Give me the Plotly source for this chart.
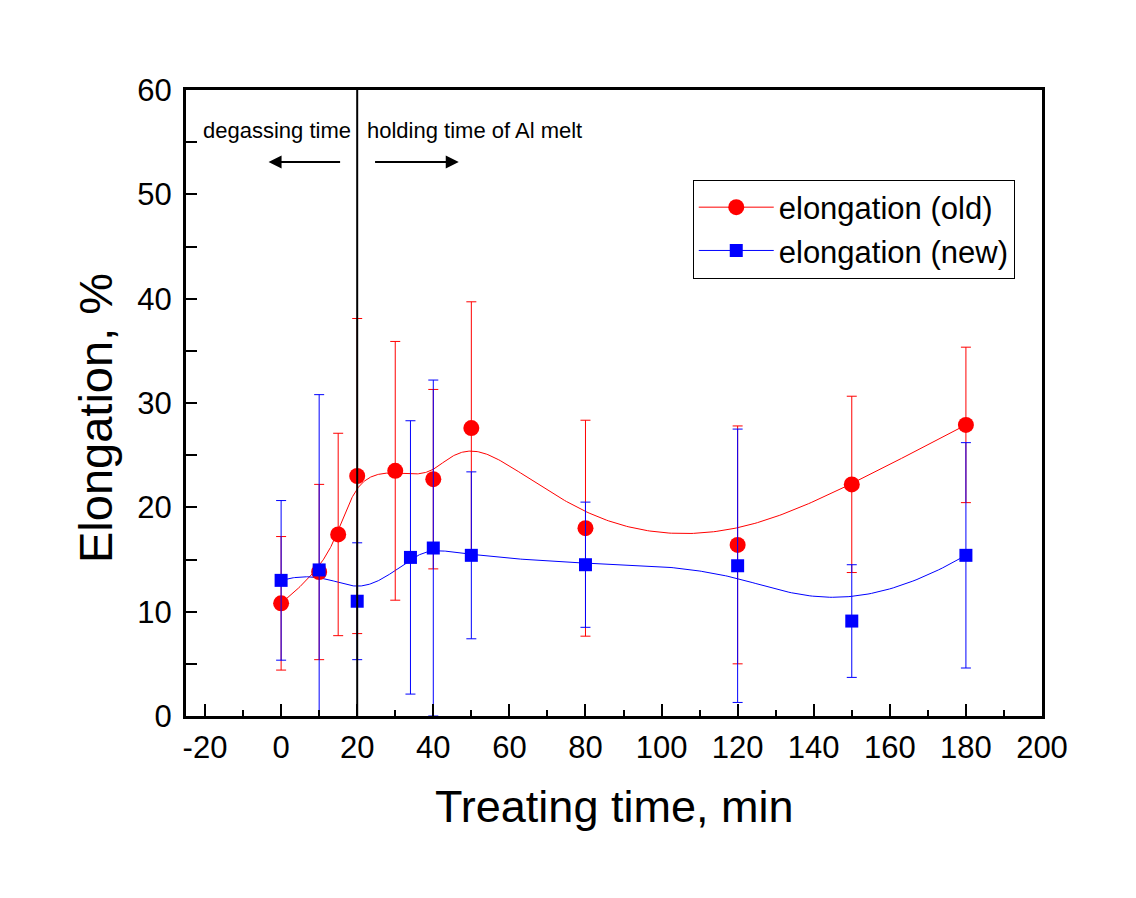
import numpy as np
import plotly.graph_objects as go

# ---- data ----
time_old = [0, 10, 15, 20, 30, 40, 50, 80, 120, 150, 180]
elong_old = [10.8, 13.8, 17.4, 23.0, 23.5, 22.7, 27.6, 18.0, 16.4, 22.2, 27.9]
err_old = [6.4, 8.4, 9.7, 15.1, 12.4, 8.6, 12.1, 10.35, 11.4, 8.45, 7.45]

time_new = [0, 10, 20, 34, 40, 50, 80, 120, 150, 180]
elong_new = [13.0, 14.0, 11.0, 15.2, 16.1, 15.4, 14.5, 14.4, 9.1, 15.4]
err_new = [7.65, 16.8, 5.6, 13.1, 16.1, 8.0, 6.0, 13.1, 5.4, 10.8]

x_tick_vals = [-20, 0, 20, 40, 60, 80, 100, 120, 140, 160, 180, 200]
x_tick_labels = ["-20", "0", "20", "40", "60", "80", "100", "120", "140", "160", "180", "200"]

label_old = "elongation (old)"
label_new = "elongation (new)"
boundary_time = 20

FONT = "Liberation Sans, Arial, sans-serif"
RED = "#FF0000"
BLUE = "#0000FF"


def bspline(xs, ys, k=3, num=500):
    """Clamped uniform B-spline using the data points as control points."""
    P = np.column_stack([xs, ys]).astype(float)
    n = len(P)
    k = min(k, n - 1)
    inner = np.linspace(0.0, 1.0, n - k + 1)
    t = np.concatenate([np.zeros(k), inner, np.ones(k)])
    u = np.linspace(0.0, 1.0, num)
    m = len(t) - 1
    N = np.zeros((num, m))
    for i in range(m):
        N[:, i] = ((t[i] <= u) & (u < t[i + 1])).astype(float)
    N[u >= 1.0, n - 1] = 1.0
    for p in range(1, k + 1):
        newN = np.zeros((num, m - p))
        for i in range(m - p):
            val = np.zeros(num)
            d1 = t[i + p] - t[i]
            if d1 > 0:
                val += (u - t[i]) / d1 * N[:, i]
            d2 = t[i + p + 1] - t[i + 1]
            if d2 > 0:
                val += (t[i + p + 1] - u) / d2 * N[:, i + 1]
            newN[:, i] = val
        N = newN
    C = N[:, :n] @ P
    return C[:, 0], C[:, 1]


cx_old, cy_old = bspline(time_old, elong_old)
cx_new, cy_new = bspline(time_new, elong_new)

fig = go.Figure()

# smooth connecting curves
fig.add_trace(go.Scatter(x=cx_old, y=cy_old, mode="lines",
                         line=dict(color=RED, width=1), showlegend=False, hoverinfo="skip"))
fig.add_trace(go.Scatter(x=cx_new, y=cy_new, mode="lines",
                         line=dict(color=BLUE, width=1), showlegend=False, hoverinfo="skip"))

# markers with error bars
fig.add_trace(go.Scatter(x=time_old, y=elong_old, mode="markers",
                         marker=dict(symbol="circle", size=16, color=RED),
                         error_y=dict(type="data", array=err_old, visible=True,
                                      color=RED, thickness=1, width=5),
                         showlegend=False))
fig.add_trace(go.Scatter(x=time_new, y=elong_new, mode="markers",
                         marker=dict(symbol="square", size=13, color=BLUE),
                         error_y=dict(type="data", array=err_new, visible=True,
                                      color=BLUE, thickness=1, width=5),
                         showlegend=False))

# legend entries
fig.add_trace(go.Scatter(x=[None], y=[None], mode="lines+markers", name=label_old,
                         line=dict(color=RED, width=1),
                         marker=dict(symbol="circle", size=16, color=RED)))
fig.add_trace(go.Scatter(x=[None], y=[None], mode="lines+markers", name=label_new,
                         line=dict(color=BLUE, width=1),
                         marker=dict(symbol="square", size=13, color=BLUE)))

# vertical boundary line
fig.add_shape(type="line", xref="x", yref="paper", x0=boundary_time, x1=boundary_time,
              y0=0, y1=1, line=dict(color="black", width=2))

# annotation texts
fig.add_annotation(x=-1.2, y=56.1, xref="x", yref="y", text="degassing time",
                   showarrow=False, font=dict(family=FONT, size=22, color="black"))
fig.add_annotation(x=50.8, y=56.1, xref="x", yref="y", text="holding time of Al melt",
                   showarrow=False, font=dict(family=FONT, size=22, color="black"))
# arrows
fig.add_annotation(x=-3.3, y=53.1, ax=15.9, ay=53.1, xref="x", yref="y",
                   axref="x", ayref="y", text="", showarrow=True,
                   arrowhead=2, arrowsize=1.3, arrowwidth=2, arrowcolor="black")
fig.add_annotation(x=46.7, y=53.1, ax=24.3, ay=53.1, xref="x", yref="y",
                   axref="x", ayref="y", text="", showarrow=True,
                   arrowhead=2, arrowsize=1.3, arrowwidth=2, arrowcolor="black")

# axis titles
fig.add_annotation(x=0.5, y=0, xref="paper", yref="paper", text="Treating time, min",
                   showarrow=False, yanchor="middle", xanchor="center", yshift=-90,
                   font=dict(family=FONT, size=45, color="black"))
fig.add_annotation(x=0, y=0.5, xref="paper", yref="paper", text="Elongation, %",
                   showarrow=False, textangle=-90, xanchor="center", yanchor="middle",
                   xshift=-91, yshift=-15, font=dict(family=FONT, size=47, color="black"))

fig.update_layout(
    width=1136, height=898,
    margin=dict(l=178, r=102, t=82, b=190),
    paper_bgcolor="white", plot_bgcolor="white",
    font=dict(family=FONT, color="black"),
    legend=dict(x=0.592, y=0.857, xanchor="left", yanchor="top",
                bgcolor="white", bordercolor="black", borderwidth=1,
                font=dict(family=FONT, size=31, color="black"),
                itemwidth=75, tracegroupgap=0),
    xaxis=dict(range=[-25, 200], tickmode="array", tickvals=x_tick_vals, ticktext=x_tick_labels,
               ticks="inside", ticklen=12, tickwidth=2, tickcolor="black",
               minor=dict(dtick=10, tick0=0, ticks="inside", ticklen=6, tickwidth=2,
                          tickcolor="black"),
               showline=True, linewidth=3, linecolor="black", mirror=True,
               showgrid=False, zeroline=False,
               tickfont=dict(family=FONT, size=31, color="black"),
               ticklabelstandoff=2),
    yaxis=dict(range=[0, 60], tickmode="linear", tick0=0, dtick=10,
               ticks="inside", ticklen=11, tickwidth=2, tickcolor="black",
               minor=dict(dtick=5, ticks="inside", ticklen=11, tickwidth=2, tickcolor="black"),
               showline=True, linewidth=3, linecolor="black", mirror=True,
               showgrid=False, zeroline=False,
               tickfont=dict(family=FONT, size=31, color="black"),
               ticklabelstandoff=5),
)

fig.write_html("out.html")
